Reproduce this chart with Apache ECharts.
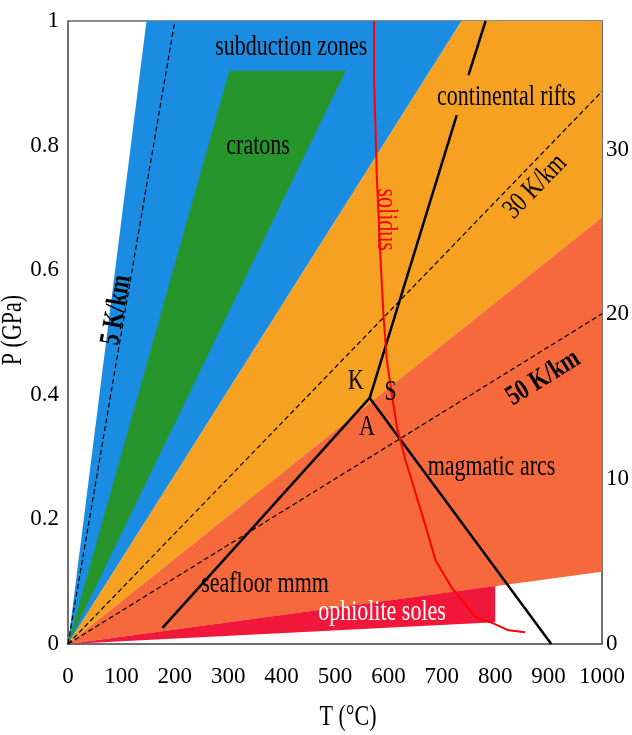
<!DOCTYPE html>
<html>
<head>
<meta charset="utf-8">
<script src="https://cdn.jsdelivr.net/npm/echarts@6/dist/echarts.min.js"></script>
<style>
  html, body { margin: 0; padding: 0; background: #fff; }
  #main { width: 632px; height: 735px; }
</style>
</head>
<body>
<div id="main"></div>
<script>
// P-T fields, [T (°C), P (GPa)] vertices
var subductionZone = [[0, 0], [147, 1], [737, 1]];
var cratons = [[0, 0], [302, 0.92], [520, 0.92]];
var continentalRifts = [[0, 0], [737, 1], [1000, 1], [1000, 0.685]];
var magmaticArcs = [[0, 0], [1000, 0.685], [1000, 0.116]];
var ophioliteSoles = [[0, 0], [800, 0.093], [800, 0.035]];

// geotherms
var geo5 = [[0, 0], [200, 1]];
var geo30 = [[0, 0], [1000, 0.887]];
var geo50 = [[0, 0], [1000, 0.53]];

// Al2SiO5 triple point reactions
var kyAnd = [[177, 0.026], [565, 0.395]];
var andSil = [[565, 0.395], [905, 0]];
var kySilLow = [[565, 0.395], [728, 0.849]];
var kySilHigh = [[750, 0.913], [782, 1]];

// solidus
var solidus = [[573, 1], [573, 0.91], [576, 0.825], [578, 0.756], [586, 0.605], [591, 0.525],
  [597, 0.456], [606, 0.403], [616, 0.348], [632, 0.295], [651, 0.242], [670, 0.188],
  [688, 0.135], [718, 0.091], [763, 0.043], [791, 0.035], [825, 0.022], [856, 0.019]];

var tTicks = [0, 1000, 100];
var pTicks = [0, 1, 0.2];
var depthTicks = [0, 37.8, 10];

// labels: [text, T, P, rotation (deg), colour, bold]
var labels = [
  ['subduction zones', 418, 0.958, 0, '#000', false],
  ['cratons', 356, 0.798, 0, '#000', false],
  ['continental rifts', 821, 0.878, 0, '#000', false],
  ['solidus', 595, 0.681, -90, '#ff0000', false],
  ['30 K/km', 875, 0.734, 46, '#000', false],
  ['50 K/km', 890, 0.427, 32, '#000', true],
  ['5 K/km', 91, 0.536, 80, '#000', true],
  ['K', 539, 0.421, 0, '#000', false],
  ['S', 604, 0.404, 0, '#000', false],
  ['A', 560, 0.347, 0, '#000', false],
  ['magmatic arcs', 793, 0.284, 0, '#000', false],
  ['seafloor mmm', 369, 0.095, 0, '#000', false],
  ['ophiolite soles', 588, 0.05, 0, '#fff', false]
];

var FONT = "'Liberation Serif', 'DejaVu Serif', serif";

function area(pts, color, z) {
  return {
    type: 'custom',
    data: pts,
    silent: true,
    z: z,
    renderItem: function (params, api) {
      if (params.dataIndex !== 0) return;
      var p = pts.map(function (d) { return api.coord(d); });
      return { type: 'polygon', shape: { points: p }, style: { fill: color } };
    }
  };
}

function line(pts, color, width, dash) {
  return {
    type: 'line',
    data: pts,
    symbol: 'none',
    silent: true,
    z: 5,
    lineStyle: { color: color, width: width, type: dash ? [5, 3] : 'solid' }
  };
}

var chart = echarts.init(document.getElementById('main'));

var option = {
  animation: false,
  backgroundColor: '#fff',
  grid: {
    left: 68, right: 28, top: 21, bottom: 91,
    show: true, borderColor: '#666', borderWidth: 1.5, backgroundColor: '#fff'
  },
  xAxis: {
    type: 'value', min: tTicks[0], max: tTicks[1], interval: tTicks[2],
    axisLine: { lineStyle: { color: '#666', width: 1.5 } },
    axisTick: { show: false },
    splitLine: { show: false },
    axisLabel: {
      color: '#000', fontFamily: FONT, fontSize: 23, margin: 21,
      formatter: function (v) { return String(v); }
    }
  },
  yAxis: [{
    type: 'value', min: pTicks[0], max: pTicks[1], interval: pTicks[2],
    axisLine: { show: true, lineStyle: { color: '#666', width: 1.5 } },
    axisTick: { show: false },
    splitLine: { show: false },
    axisLabel: { color: '#000', fontFamily: FONT, fontSize: 23, margin: 9 }
  }, {
    type: 'value', position: 'right', min: depthTicks[0], max: depthTicks[1], interval: depthTicks[2],
    axisLine: { show: true, lineStyle: { color: '#666', width: 1.5 } },
    axisTick: { show: false },
    splitLine: { show: false },
    axisLabel: {
      color: '#000', fontFamily: FONT, fontSize: 23, margin: 4,
      formatter: function (v) { return v % 10 === 0 ? String(v) : ''; }
    }
  }],
  series: [
    area(subductionZone, '#1a8de2', 1),
    area(cratons, '#26962c', 2),
    area(continentalRifts, '#f6a122', 3),
    area(magmaticArcs, '#f5693c', 3),
    area(ophioliteSoles, '#f0173a', 4),
    line(geo5, '#000', 1.2, true),
    line(geo30, '#000', 1.2, true),
    line(geo50, '#000', 1.2, true),
    line(kyAnd, '#000', 2.5, false),
    line(andSil, '#000', 2.5, false),
    line(kySilLow, '#000', 2.5, false),
    line(kySilHigh, '#000', 2.5, false),
    line(solidus, '#ff0000', 2, false)
  ]
};
chart.setOption(option);

var graphics = labels.map(function (l) {
  var p = chart.convertToPixel({ gridIndex: 0 }, [l[1], l[2]]);
  return {
    type: 'text', x: p[0], y: p[1], z: 10,
    rotation: l[3] * Math.PI / 180,
    scaleY: 1.3,
    style: {
      text: l[0], fill: l[4], align: 'center', verticalAlign: 'middle',
      fontFamily: FONT, fontSize: 22, fontWeight: l[5] ? 'bold' : 'normal'
    }
  };
});
graphics.push({
  type: 'text', x: 13, y: 330, rotation: Math.PI / 2, scaleY: 1.3,
  style: { text: 'P (GPa)', fill: '#000', align: 'center', verticalAlign: 'middle', fontFamily: FONT, fontSize: 22 }
});
graphics.push({
  type: 'text', x: 348, y: 717, scaleY: 1.3,
  style: { text: 'T (°C)', fill: '#000', align: 'center', verticalAlign: 'middle', fontFamily: FONT, fontSize: 22 }
});
chart.setOption({ graphic: graphics });
</script>
</body>
</html>
